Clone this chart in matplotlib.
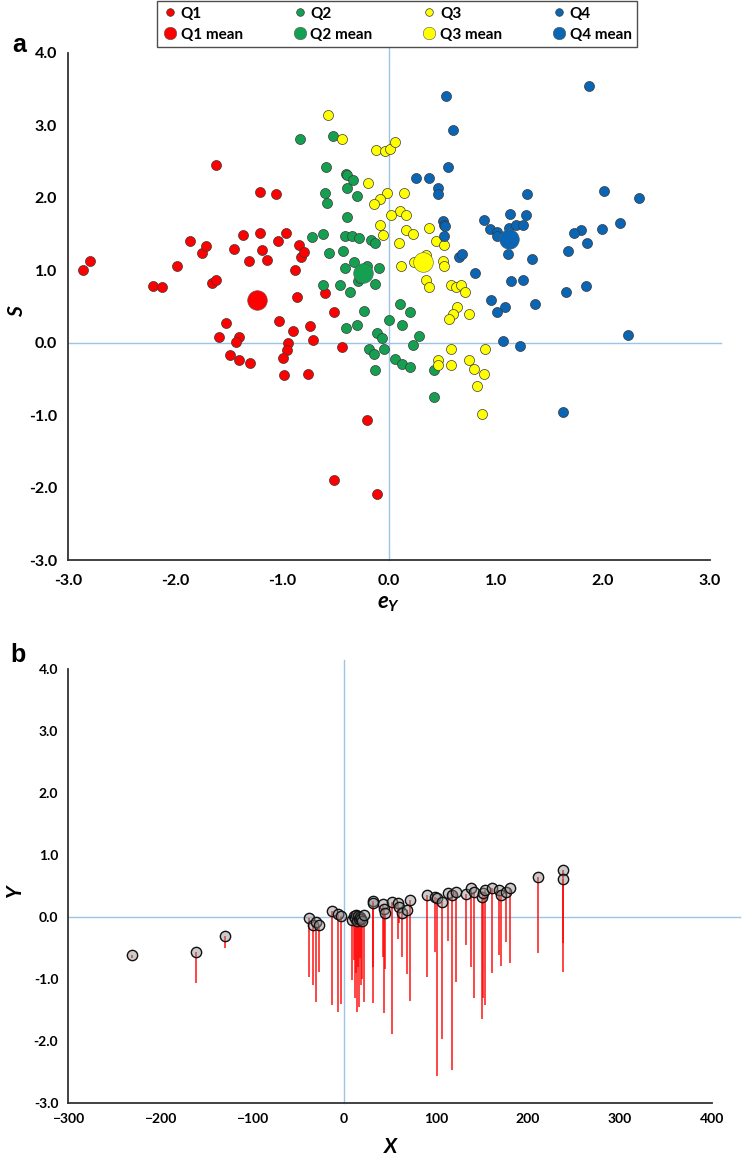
import numpy as np
import matplotlib
matplotlib.use('Agg')
import matplotlib.pyplot as plt
from matplotlib.lines import Line2D

plt.rcParams['font.family'] = ['Lato', 'DejaVu Sans']
plt.rcParams['font.weight'] = 'bold'
plt.rcParams['mathtext.fontset'] = 'custom'
plt.rcParams['mathtext.it'] = 'Lato:bold:italic'
plt.rcParams['mathtext.rm'] = 'Lato:bold'

# panel a: eY / S per quarter
q1_x = [-2.86, -2.79, -2.21, -2.12, -1.98, -1.86, -1.75, -1.71, -1.65, -1.62, -1.62, -1.45, -1.36,
        -1.31, -1.21, -1.21, -1.19, -1.14, -1.06, -1.04, -0.96, -0.88, -0.86, -0.84, -0.82, -0.79,
        -0.60, -0.51, -1.52, -1.59, -1.40, -1.43, -1.49, -1.40, -1.30, -1.03, -0.90, -0.74, -0.71,
        -0.94, -0.95, -0.99, -0.98, -0.76, -0.44, -0.21, -0.51, -0.11]
q1_y = [1.01, 1.13, 0.78, 0.77, 1.06, 1.40, 1.24, 1.33, 0.83, 0.87, 2.46, 1.30, 1.49,
        1.13, 2.08, 1.52, 1.28, 1.14, 2.06, 1.40, 1.51, 1.01, 0.63, 1.35, 1.19, 1.25,
        0.68, 0.42, 0.27, 0.08, 0.08, 0.01, -0.17, -0.24, -0.28, 0.30, 0.16, 0.23, 0.04,
        0.00, -0.10, -0.21, -0.45, -0.43, -0.06, -1.07, -1.89, -2.09]
q2_x = [-0.83, -0.52, -0.59, -0.40, -0.39, -0.34, -0.39, -0.30, -0.60, -0.58, -0.39, -0.72, -0.62,
        -0.41, -0.35, -0.28, -0.17, -0.13, -0.56, -0.43, -0.33, -0.41, -0.21, -0.09, -0.29, -0.62,
        -0.46, -0.36, -0.13, -0.23, -0.40, -0.30, -0.11, -0.07, -0.19, -0.14, -0.05, -0.13, 0.00,
        0.10, 0.20, 0.12, 0.28, 0.22, 0.06, 0.12, 0.20, 0.42, 0.42, -0.27]
q2_y = [2.81, 2.85, 2.43, 2.33, 2.31, 2.24, 2.13, 2.02, 2.07, 1.93, 1.74, 1.46, 1.50,
        1.48, 1.48, 1.45, 1.42, 1.37, 1.24, 1.27, 1.12, 1.03, 1.06, 1.03, 0.85, 0.80,
        0.80, 0.70, 0.81, 0.44, 0.20, 0.24, 0.13, 0.06, -0.08, -0.16, -0.09, -0.37, 0.31,
        0.54, 0.42, 0.25, 0.09, -0.03, -0.23, -0.29, -0.33, -0.38, -0.75, 0.90]
q3_x = [-0.57, -0.44, -0.12, -0.04, 0.01, 0.06, -0.20, -0.02, 0.14, -0.08, -0.14, 0.10, 0.16,
        0.02, -0.08, -0.06, 0.16, 0.22, 0.37, 0.09, 0.44, 0.51, 0.23, 0.11, 0.50, 0.51, 0.35,
        0.37, 0.35, 0.58, 0.63, 0.67, 0.71, 0.64, 0.60, 0.56, 0.75, 0.58, 0.90, 0.46, 0.46,
        0.58, 0.75, 0.79, 0.89, 0.82, 0.87]
q3_y = [3.14, 2.81, 2.66, 2.65, 2.67, 2.77, 2.20, 2.07, 2.07, 1.98, 1.91, 1.82, 1.76,
        1.76, 1.63, 1.49, 1.56, 1.50, 1.58, 1.37, 1.40, 1.35, 1.12, 1.06, 1.13, 1.06, 0.87,
        0.77, 1.21, 0.80, 0.77, 0.80, 0.70, 0.49, 0.40, 0.33, 0.39, -0.08, -0.09, -0.24, -0.31,
        -0.31, -0.24, -0.36, -0.43, -0.60, -0.99]
q4_x = [1.87, 0.53, 0.60, 0.55, 0.25, 0.37, 0.46, 0.46, 1.29, 2.01, 2.34, 1.13, 1.28, 0.89,
        0.50, 0.51, 0.52, 0.94, 1.01, 1.01, 1.12, 1.19, 1.25, 1.79, 1.73, 1.99, 2.16, 1.85,
        0.51, 1.11, 1.34, 1.67, 0.65, 0.68, 0.80, 1.14, 1.25, 1.84, 1.65, 0.95, 1.08, 1.01,
        1.36, 1.07, 1.22, 2.23, 1.63]
q4_y = [3.55, 3.41, 2.93, 2.43, 2.28, 2.28, 2.13, 2.05, 2.05, 2.09, 2.00, 1.78, 1.76, 1.69,
        1.68, 1.63, 1.61, 1.57, 1.53, 1.47, 1.59, 1.63, 1.62, 1.56, 1.51, 1.57, 1.65, 1.38,
        1.48, 1.22, 1.15, 1.27, 1.18, 1.23, 0.96, 0.85, 0.86, 0.78, 0.70, 0.59, 0.50, 0.42,
        0.53, 0.03, -0.04, 0.11, -0.95]
mean_x = [-1.23, -0.24, 0.32, 1.12]
mean_y = [0.59, 0.96, 1.12, 1.43]
names = ['Q1', 'Q2', 'Q3', 'Q4']
colors = ['#FF0000', '#14A050', '#FFFF00', '#0A66B4']

# panel b: X / Y with lower end of red line
b_x = [-230, -161, -129, -38, -34, -30, -27, -13, -6, -3,
       9, 11, 12, 13, 14, 15, 16, 17, 18, 20, 22,
       32, 32, 42, 43.5, 45, 52, 59, 60, 63, 68, 72,
       90, 99, 101, 107, 113, 117, 122, 133, 138, 141,
       150, 151, 153, 161, 168, 171, 176, 180, 211, 238, 238]
b_y = [-0.62, -0.56, -0.31, -0.02, -0.13, -0.08, -0.13, 0.10, 0.05, 0.02,
       -0.05, 0.02, -0.02, 0.03, -0.06, 0.01, -0.03, 0.00, -0.04, -0.07, 0.03,
       0.26, 0.22, 0.21, 0.13, 0.06, 0.24, 0.22, 0.16, 0.07, 0.11, 0.27,
       0.35, 0.32, 0.30, 0.24, 0.39, 0.35, 0.40, 0.37, 0.47, 0.41,
       0.33, 0.39, 0.44, 0.47, 0.44, 0.35, 0.40, 0.47, 0.64, 0.76, 0.62]
b_lo = [-0.66, -1.06, -0.50, -0.96, -1.10, -1.37, -0.88, -1.42, -1.54, -1.41,
        -1.02, -0.70, -1.30, -0.90, -1.53, -0.80, -1.45, -0.66, -1.10, -1.00, -1.37,
        -1.39, -0.80, -0.64, -1.55, -0.84, -1.88, -0.36, -0.10, -0.65, -0.92, -1.35,
        -0.96, -0.56, -2.56, -1.97, -0.39, -2.46, -1.05, -0.45, -0.80, -1.31,
        -1.65, -1.30, -1.42, -0.91, -0.61, -0.79, -0.41, -0.74, -0.58, -0.42, -0.88]

fig = plt.figure(figsize=(7.42, 11.57), dpi=100)
axa = fig.add_axes([68 / 742, 1 - 560 / 1157, 642 / 742, 507 / 1157])
axb = fig.add_axes([68 / 742, 1 - 1103 / 1157, 644 / 742, 434 / 1157])

line_col = '#9DC3E6'

# ---- panel a
axa.plot([-3, 3.1], [0, 0], color=line_col, lw=1.0, zorder=1, clip_on=False)
axa.plot([0, 0], [-3, 4.08], color=line_col, lw=1.0, zorder=1, clip_on=False)
qx = [q1_x, q2_x, q3_x, q4_x]
qy = [q1_y, q2_y, q3_y, q4_y]
for i in range(4):
    axa.scatter(qx[i], qy[i], s=52, color=colors[i], edgecolors='#3a3a3a', linewidths=0.5, zorder=3)
for i in range(4):
    axa.scatter(mean_x[i], mean_y[i], s=200, color=colors[i], edgecolors='#5a5a5a', linewidths=0.4, zorder=4)

axa.set_xlim(-3, 3)
axa.set_ylim(-3, 4)
axa.set_xticks(np.arange(-3, 3.1, 1))
axa.set_yticks(np.arange(-3, 4.1, 1))
axa.set_xticklabels(['%.1f' % v for v in np.arange(-3, 3.1, 1)])
axa.set_yticklabels(['%.1f' % v for v in np.arange(-3, 4.1, 1)])
axa.tick_params(length=0, labelsize=11.5, pad=8)
axa.tick_params(axis='x', pad=10)
axa.set_xlabel('$e_Y$', fontsize=16)
axa.xaxis.set_label_coords(0.5, -0.068)
axa.set_ylabel('S', fontsize=15, style='italic', fontweight='bold')
axa.yaxis.set_label_coords(-0.064, 0.49)

# ---- panel b
axb.plot([-300, 430], [0, 0], color=line_col, lw=1.0, zorder=1, clip_on=False)
axb.plot([0, 0], [-3, 4.15], color=line_col, lw=1.0, zorder=1, clip_on=False)
axb.vlines(b_x, b_lo, b_y, color='#FF0000', lw=1.2, alpha=0.85, zorder=2)
axb.scatter(b_x, b_y, s=55, facecolors=(0.55, 0.55, 0.55, 0.45), edgecolors='#111111', linewidths=1.0, zorder=3)

axb.set_xlim(-300, 400)
axb.set_ylim(-3, 4)
axb.set_xticks(np.arange(-300, 401, 100))
axb.set_yticks(np.arange(-3, 4.1, 1))
axb.set_yticklabels(['%.1f' % v for v in np.arange(-3, 4.1, 1)])
axb.tick_params(length=0, labelsize=10, pad=7)
axb.set_xlabel('X', fontsize=15, style='italic', fontweight='bold')
axb.xaxis.set_label_coords(0.5, -0.078)
axb.set_ylabel('Y', fontsize=15, style='italic', fontweight='bold')
axb.yaxis.set_label_coords(-0.067, 0.49)

for ax in (axa, axb):
    ax.spines['top'].set_visible(False)
    ax.spines['right'].set_visible(False)
    ax.spines['left'].set_color('#333333')
    ax.spines['bottom'].set_color('#333333')
    ax.spines['left'].set_linewidth(1.3)
    ax.spines['bottom'].set_linewidth(1.3)

fig.text(12 / 742, 1 - 45 / 1157, 'a', fontsize=18, fontweight='bold', family='Liberation Sans', va='center')
fig.text(10 / 742, 1 - 655 / 1157, 'b', fontsize=18, fontweight='bold', family='Liberation Sans', va='center')

# legend: columns Q1..Q4, rows small / mean
handles = []
labels = []
for i in range(4):
    handles.append(Line2D([], [], ls='none', marker='o', ms=5.5, mfc=colors[i], mec='#3a3a3a', mew=0.5))
    labels.append(names[i])
    handles.append(Line2D([], [], ls='none', marker='o', ms=9, mfc=colors[i], mec='#5a5a5a', mew=0.4))
    labels.append(names[i] + ' mean')
leg = fig.legend(handles, labels, ncol=4, loc='lower left',
                 bbox_to_anchor=(157 / 742, 1 - 47 / 1157, 480 / 742, 45 / 1157),
                 mode='expand', borderaxespad=0, frameon=True, fancybox=False,
                 fontsize=11, handletextpad=0.2, handlelength=1.0, labelspacing=0.45,
                 borderpad=0.35, columnspacing=0.5)
leg.get_frame().set_edgecolor('#222222')
leg.get_frame().set_linewidth(1.0)

fig.savefig('out.png', dpi=100)
